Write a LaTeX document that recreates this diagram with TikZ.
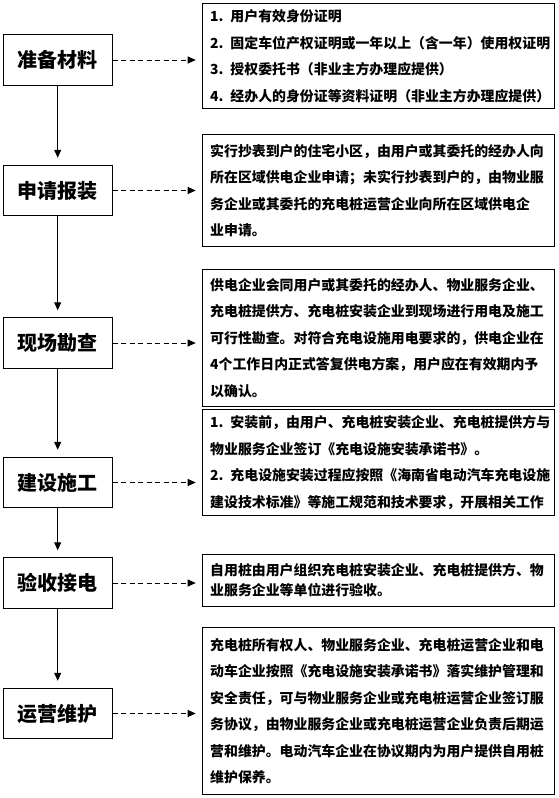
\documentclass[tikz,border=0pt]{standalone}
\usepackage{fontspec}
\newfontfamily\cjk{Noto Sans CJK SC}
\usetikzlibrary{arrows.meta, positioning}

\begin{document}
\begin{tikzpicture}[
    x=1pt, y=-1pt,
    node distance=79pt,
    stage/.style={draw, line width=1pt, minimum width=109pt, minimum height=50.5pt, inner sep=0pt,
        font=\cjk\bfseries\fontsize{20pt}{24pt}\selectfont},
    note/.style={draw, line width=1pt, anchor=north west, text width=336pt, inner xsep=8pt, inner ysep=0pt,
        align=left, font=\cjk\bfseries\fontsize{13.9pt}{26.5pt}\selectfont},
    arr/.style={-{Triangle[length=8pt, width=7pt]}, line width=1pt, shorten >=7pt},
    dasharr/.style={-{Triangle[length=8pt, width=7pt]}, line width=1pt, dash pattern=on 5pt off 3.5pt, shorten >=6pt}
]
\useasboundingbox (0,0) rectangle (558,798);

% Stages
\node[stage] (prep) at (57.7,60) {准备材料};
\node[stage, below=79pt of prep] (apply) {申请报装};
\node[stage, below=101pt of apply] (survey) {现场勘查};
\node[stage, below=88pt of survey] (build) {建设施工};
\node[stage, below=49pt of build] (accept) {验收接电};
\node[stage, below=79pt of accept] (maint) {运营维护};

% Notes
\node[note, minimum height=105pt] (docs) at (201.7,3) {1. 用户有效身份证明\\
2. 固定车位产权证明或一年以上（含一年）使用权证明\\
3. 授权委托书（非业主方办理应提供）\\
4. 经办人的身份证等资料证明（非业主方办理应提供）};

\node[note, minimum height=112pt] (applytxt) at (201.7,134) {实行抄表到户的住宅小区，由用户或其委托的经办人向\\
所在区域供电企业申请；未实行抄表到户的，由物业服\\
务企业或其委托的充电桩运营企业向所在区域供电企\\
业申请。};

\node[note, minimum height=137pt] (surveytxt) at (201.7,269) {供电企业会同用户或其委托的经办人、物业服务企业、\\
充电桩提供方、充电桩安装企业到现场进行用电及施工\\
可行性勘查。对符合充电设施用电要求的，供电企业在\\
4个工作日内正式答复供电方案，用户应在有效期内予\\
以确认。};

\node[note, minimum height=106pt] (buildtxt) at (201.7,409) {1. 安装前，由用户、充电桩安装企业、充电桩提供方与\\
物业服务企业签订《充电设施安装承诺书》。\\
2. 充电设施安装过程应按照《海南省电动汽车充电设施\\
建设技术标准》等施工规范和技术要求，开展相关工作};

\node[note, minimum height=52pt, font=\cjk\bfseries\fontsize{13.9pt}{20pt}\selectfont] (accepttxt) at (201.7,554) {自用桩由用户组织充电桩安装企业、充电桩提供方、物\\
业服务企业等单位进行验收。};

\node[note, minimum height=167pt] (mainttxt) at (201.7,627) {充电桩所有权人、物业服务企业、充电桩运营企业和电\\
动车企业按照《充电设施安装承诺书》落实维护管理和\\
安全责任，可与物业服务企业或充电桩运营企业签订服\\
务协议，由物业服务企业或充电桩运营企业负责后期运\\
营和维护。电动汽车企业在协议期内为用户提供自用桩\\
维护保养。};

% Flow
\draw[arr] (prep) -- (apply);
\draw[arr] (apply) -- (survey);
\draw[arr] (survey) -- (build);
\draw[arr] (build) -- (accept);
\draw[arr] (accept) -- (maint);

% Details
\draw[dasharr] (prep.east) -- (prep.east -| docs.west);
\draw[dasharr] (apply.east) -- (apply.east -| applytxt.west);
\draw[dasharr] (survey.east) -- (survey.east -| surveytxt.west);
\draw[dasharr] (build.east) -- (build.east -| buildtxt.west);
\draw[dasharr] (accept.east) -- (accept.east -| accepttxt.west);
\draw[dasharr] (maint.east) -- (maint.east -| mainttxt.west);

\end{tikzpicture}
\end{document}
